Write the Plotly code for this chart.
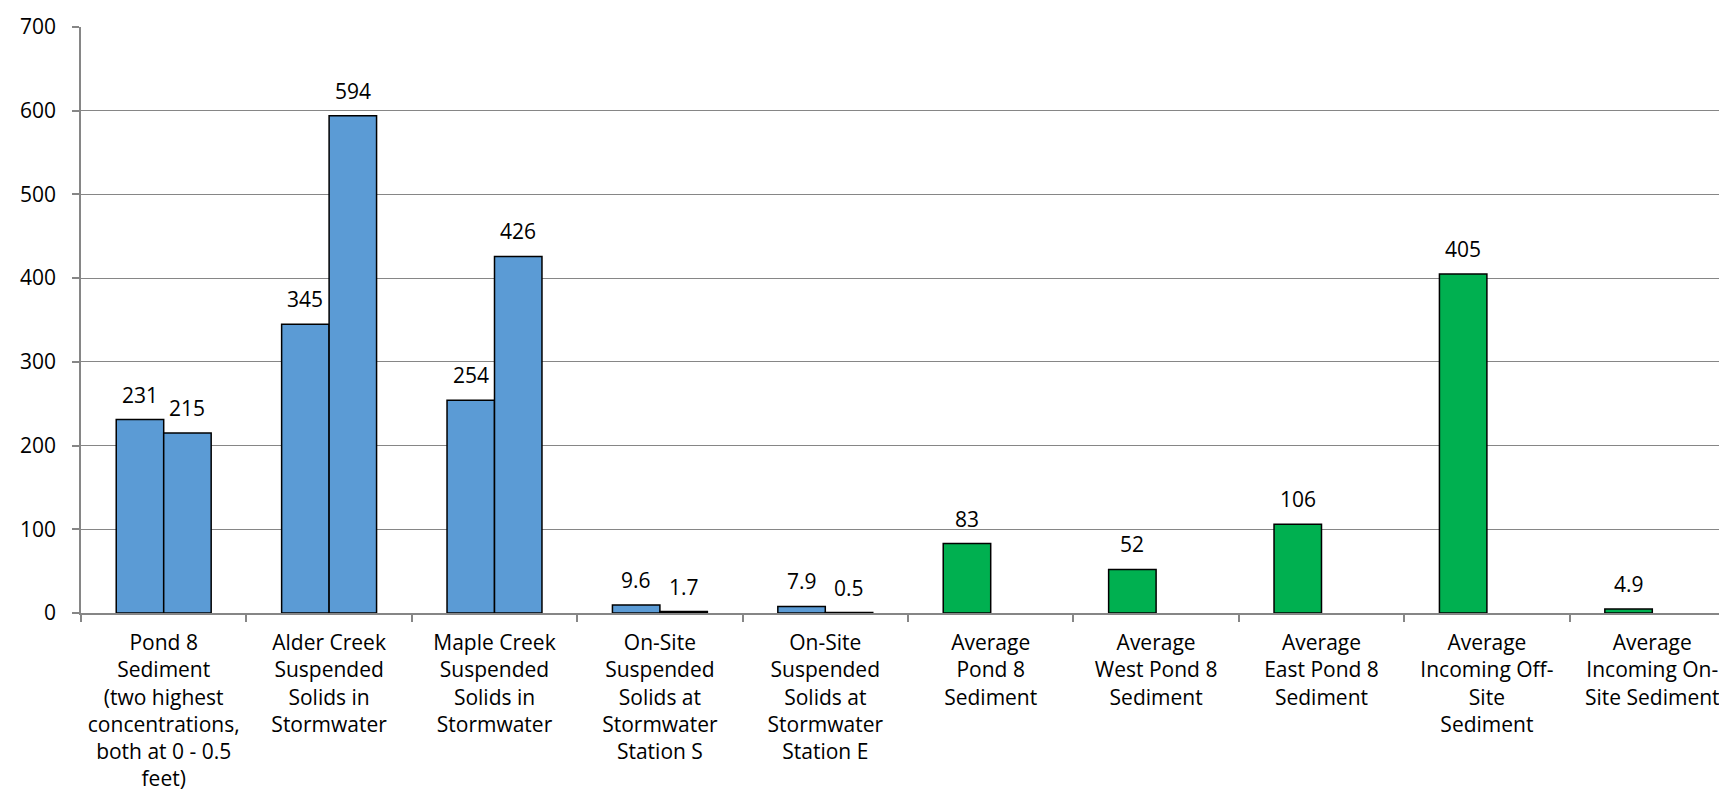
import plotly.graph_objects as go

categories = [
    "Pond 8<br>Sediment<br>(two highest<br>concentrations,<br>both at 0 - 0.5<br>feet)",
    "Alder Creek<br>Suspended<br>Solids in<br>Stormwater",
    "Maple Creek<br>Suspended<br>Solids in<br>Stormwater",
    "On-Site<br>Suspended<br>Solids at<br>Stormwater<br>Station S",
    "On-Site<br>Suspended<br>Solids at<br>Stormwater<br>Station E",
    "Average<br>Pond 8<br>Sediment",
    "Average<br>West Pond 8<br>Sediment",
    "Average<br>East Pond 8<br>Sediment",
    "Average<br>Incoming Off-<br>Site<br>Sediment",
    "Average<br>Incoming On-<br>Site Sediment",
]
series1 = [231, 345, 254, 9.6, 7.9, 83, 52, 106, 405, 4.9]
series2 = [215, 594, 426, 1.7, 0.5, None, None, None, None, None]
series1_colors = ["#5B9BD5"] * 5 + ["#00B050"] * 5
series2_color = "#5B9BD5"

FONT = "Open Sans"
GRAY = "#868686"
BARGAP = 0.426
FS = 21

fig = go.Figure()
fig.add_bar(x=categories, y=series1, marker=dict(color=series1_colors, line=dict(color="black", width=1.5)),
            showlegend=False)
fig.add_bar(x=categories, y=series2, marker=dict(color=series2_color, line=dict(color="black", width=1.5)),
            showlegend=False)

W, H = 1727, 796
ml, mr, mt, mb = 73, 0, 19, 191
cat_w = (W - ml - mr) / len(categories)
bar_w = cat_w * (1 - BARGAP) / 2
off = bar_w / 2

def fmt(v):
    return f"{v:g}"

for c, v in zip(categories, series1):
    fig.add_annotation(x=c, y=v, text=fmt(v), showarrow=False, xshift=-off, yshift=25,
                       yanchor="middle", font=dict(family=FONT, size=FS, color="black"))
for c, v in zip(categories, series2):
    if v is None:
        continue
    fig.add_annotation(x=c, y=v, text=fmt(v), showarrow=False, xshift=off, yshift=25,
                       yanchor="middle", font=dict(family=FONT, size=FS, color="black"))

fig.update_layout(
    width=W, height=H,
    margin=dict(l=ml, r=mr, t=mt, b=mb, autoexpand=False),
    barmode="group", bargap=BARGAP, bargroupgap=0,
    plot_bgcolor="white", paper_bgcolor="white",
    font=dict(family=FONT, size=FS, color="black"),
)
fig.update_xaxes(showline=True, linecolor=GRAY, linewidth=1.5, ticks="outside", tickson="boundaries",
                 ticklen=7, tickcolor=GRAY, tickwidth=1.5, tickangle=0, ticklabelstandoff=10,
                 tickfont=dict(family=FONT, size=FS, color="black"))
fig.update_yaxes(range=[0, 700], dtick=100, showline=True, linecolor=GRAY, linewidth=1.5,
                 ticks="outside", ticklen=7, tickcolor=GRAY, tickwidth=1.5, ticklabelstandoff=12,
                 showgrid=True, gridcolor=GRAY, gridwidth=1, zeroline=False,
                 tickfont=dict(family=FONT, size=FS, color="black"))

fig.write_html("out.html")
